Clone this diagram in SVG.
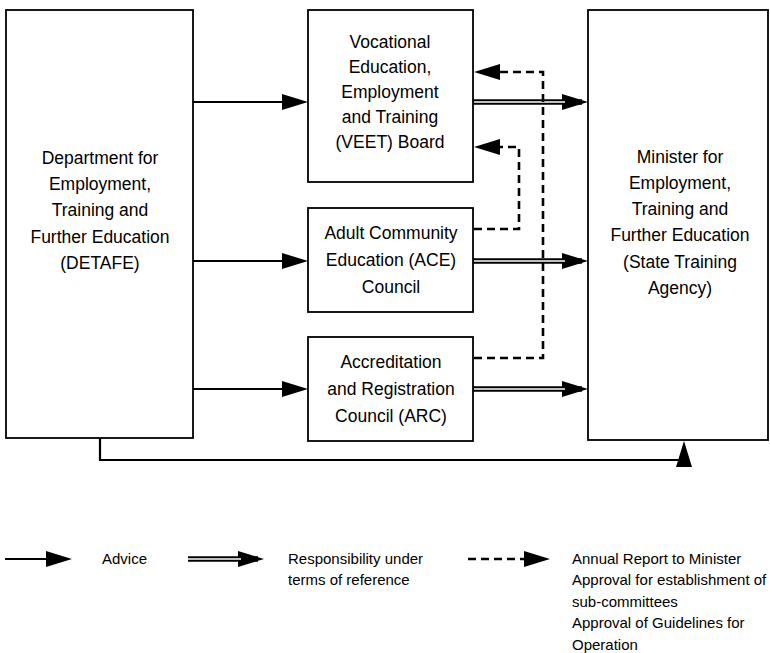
<svg xmlns="http://www.w3.org/2000/svg" width="770" height="653" viewBox="0 0 770 653">
<defs>
<style>
.box{fill:#fff;stroke:#000;stroke-width:1.8}
.t{font-family:"Liberation Sans",Arial,sans-serif;font-size:17.5px;fill:#000;text-anchor:middle}
.lg{font-family:"Liberation Sans",Arial,sans-serif;font-size:15px;fill:#000}
.adv{fill:none;stroke:#000;stroke-width:2.2}
.dblo{fill:none;stroke:#000;stroke-width:5.5}
.dbli{fill:none;stroke:#fff;stroke-width:1.6}
.dsh{fill:none;stroke:#000;stroke-width:2.6;stroke-dasharray:8 5}
</style>
<marker id="ah" markerUnits="userSpaceOnUse" markerWidth="26" markerHeight="16" refX="20" refY="8" orient="auto">
<path d="M0,0 L26,8 L0,16 Z" fill="#000"/>
</marker>
</defs>
<rect width="770" height="653" fill="#fff"/>

<g id="connectors">
<line class="adv" x1="193" y1="102" x2="302" y2="102" marker-end="url(#ah)"/>
<line class="adv" x1="193" y1="261" x2="302" y2="261" marker-end="url(#ah)"/>
<line class="adv" x1="193" y1="389" x2="302" y2="389" marker-end="url(#ah)"/>
<line class="dblo" x1="473" y1="102" x2="582" y2="102" marker-end="url(#ah)"/>
<line class="dbli" x1="474" y1="102" x2="565" y2="102"/>
<line class="dblo" x1="473" y1="261" x2="582" y2="261" marker-end="url(#ah)"/>
<line class="dbli" x1="474" y1="261" x2="565" y2="261"/>
<line class="dblo" x1="473" y1="389" x2="582" y2="389" marker-end="url(#ah)"/>
<line class="dbli" x1="474" y1="389" x2="565" y2="389"/>
<path class="dsh" d="M474,358 H543 V72 H480" marker-end="url(#ah)"/>
<path class="dsh" d="M474,229 H519 V147 H480" marker-end="url(#ah)"/>
<path class="adv" d="M100,438 V460 H684 V447" marker-end="url(#ah)"/>
</g>

<g id="detafe">
<rect class="box" x="6" y="10" width="187" height="428"/>
<text class="t" x="100" y="164">Department for</text>
<text class="t" x="100" y="190">Employment,</text>
<text class="t" x="100" y="216">Training and</text>
<text class="t" x="100" y="243">Further Education</text>
<text class="t" x="100" y="269">(DETAFE)</text>
</g>

<g id="veet">
<rect class="box" x="308" y="10" width="165" height="172"/>
<text class="t" x="390" y="48">Vocational</text>
<text class="t" x="390" y="73">Education,</text>
<text class="t" x="390" y="98">Employment</text>
<text class="t" x="390" y="123">and Training</text>
<text class="t" x="390" y="148">(VEET) Board</text>
</g>

<g id="ace">
<rect class="box" x="308" y="208" width="165" height="104"/>
<text class="t" x="391" y="239">Adult Community</text>
<text class="t" x="391" y="266">Education (ACE)</text>
<text class="t" x="391" y="293">Council</text>
</g>

<g id="arc">
<rect class="box" x="308" y="337" width="165" height="104"/>
<text class="t" x="391" y="368">Accreditation</text>
<text class="t" x="391" y="395">and Registration</text>
<text class="t" x="391" y="422">Council (ARC)</text>
</g>

<g id="minister">
<rect class="box" x="588" y="10" width="180" height="430"/>
<text class="t" x="680" y="163">Minister for</text>
<text class="t" x="680" y="189">Employment,</text>
<text class="t" x="680" y="215">Training and</text>
<text class="t" x="680" y="241">Further Education</text>
<text class="t" x="680" y="268">(State Training</text>
<text class="t" x="680" y="294">Agency)</text>
</g>

<g id="legend">
<line class="adv" x1="5" y1="559" x2="66" y2="559" marker-end="url(#ah)"/>
<text class="lg" x="102" y="564">Advice</text>
<line class="dblo" x1="188" y1="559" x2="258" y2="559" marker-end="url(#ah)"/>
<line class="dbli" x1="188" y1="559" x2="241" y2="559"/>
<text class="lg" x="288" y="564">Responsibility under</text>
<text class="lg" x="288" y="585">terms of reference</text>
<line class="dsh" x1="468" y1="559" x2="544" y2="559" marker-end="url(#ah)"/>
<text class="lg" x="572" y="564">Annual Report to Minister</text>
<text class="lg" x="572" y="585">Approval for establishment of</text>
<text class="lg" x="572" y="607">sub-committees</text>
<text class="lg" x="572" y="628">Approval of Guidelines for</text>
<text class="lg" x="572" y="650">Operation</text>
</g>
</svg>
